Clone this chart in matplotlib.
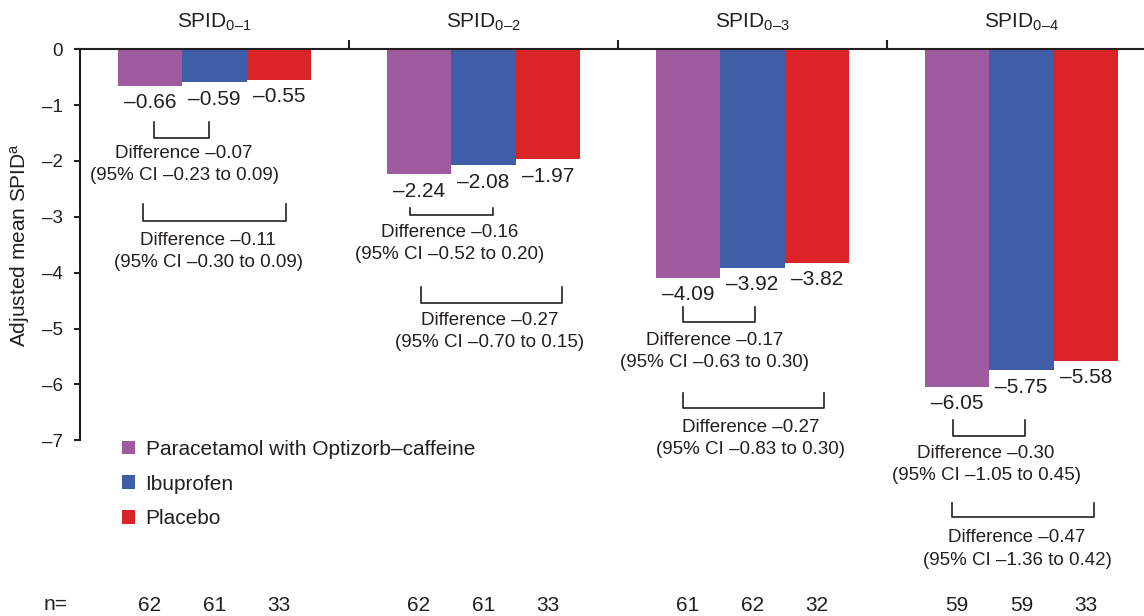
import matplotlib
matplotlib.use("Agg")
import matplotlib.pyplot as plt
import numpy as np

# ---- data ----
groups = ["0–1", "0–2", "0–3", "0–4"]
series = ["Paracetamol with Optizorb–caffeine", "Ibuprofen", "Placebo"]
paracetamol = [-0.66, -2.24, -4.09, -6.05]
ibuprofen = [-0.59, -2.08, -3.92, -5.75]
placebo = [-0.55, -1.97, -3.82, -5.58]
n_paracetamol = [62, 62, 61, 59]
n_ibuprofen = [61, 61, 62, 59]
n_placebo = [33, 33, 32, 33]
diff_pi = ["–0.07", "–0.16", "–0.17", "–0.30"]
ci_pi = ["–0.23 to 0.09", "–0.52 to 0.20", "–0.63 to 0.30", "–1.05 to 0.45"]
diff_pp = ["–0.11", "–0.27", "–0.27", "–0.47"]
ci_pp = ["–0.30 to 0.09", "–0.70 to 0.15", "–0.83 to 0.30", "–1.36 to 0.42"]
yticks = [0, -1, -2, -3, -4, -5, -6, -7]

# ---- layout (annotation positions) ----
br1_top = [-1.31, -2.84, -4.62, -6.64]
br1_h = [0.27, 0.13, 0.27, 0.29]
txt1_y = [-1.86, -3.28, -5.21, -7.23]
br2_top = [-2.77, -4.26, -6.16, -8.12]
br2_h = [0.30, 0.29, 0.27, 0.25]
txt2_y = [-3.42, -4.85, -6.77, -8.75]
line_gap = 0.40
# horizontal pixel offsets
br1_dx0 = [4, -9, -5, -4]
br1_dx1 = [-6, 9, 2, 3]
br2_dx0 = [-7, 2, -5, -5]
br2_dx1 = [7, 14, 7, 8]
txt1_dx = [-30.5, -33.5, -37.5, -35.5]
txt2_dx = [-6.5, 6.5, -1.5, -4.5]

colors = ["#A05AA0", "#405DA7", "#DA2428"]
tc = "#231f20"

plt.rcParams['font.family'] = ['Liberation Sans', 'DejaVu Sans']
plt.rcParams['mathtext.fontset'] = 'custom'
plt.rcParams['mathtext.rm'] = 'Liberation Sans'
plt.rcParams['mathtext.it'] = 'Liberation Sans'
plt.rcParams['text.color'] = tc

W, H = 1144, 616
fig = plt.figure(figsize=(W / 100, H / 100), dpi=100)
ax = fig.add_axes([80 / W, 0, 1 - 80 / W, 1])

px_per_unit = 55.85
group_px = 269.0
y_top = 49.3 / px_per_unit
y_bot = -(H - 49.3) / px_per_unit
ax.set_ylim(y_bot, y_top)
ax.set_xlim(-0.5, -0.5 + (W - 80) / group_px)
px = 1.0 / group_px  # one pixel in x data units

bw = 0.24
x = np.arange(len(groups))
all_vals = [paracetamol, ibuprofen, placebo]
all_n = [n_paracetamol, n_ibuprofen, n_placebo]
offs = [-bw, 0, bw]
for vals, off, c, lab in zip(all_vals, offs, colors, series):
    ax.bar(x + off, vals, width=bw, color=c, label=lab, zorder=2)
    for xi, v in zip(x, vals):
        ax.text(xi + off, v - 0.30, f"{v:.2f}".replace("-", "–"), ha='center', va='center',
                fontsize=15, color=tc)

# n row
for nvals, off in zip(all_n, offs):
    for xi, nv in zip(x, nvals):
        ax.text(xi + off, -9.95, str(nv), ha='center', va='center', fontsize=15, color=tc, clip_on=False)
fig.text(44 / W, 1 - 605 / H, "n=", ha='left', va='center', fontsize=15, color=tc)

# group titles
for xi, g in zip(x, groups):
    ax.text(xi, 0.48, r"SPID$_{\mathregular{" + g + "}}$", ha='center', va='center', fontsize=15, color=tc)

# brackets and difference text
lw_b = 1.2
fs_t = 13.5
for i, xi in enumerate(x):
    xa = xi - bw + br1_dx0[i] * px
    xb = xi + br1_dx1[i] * px
    t, h = br1_top[i], br1_h[i]
    ax.plot([xa, xa, xb, xb], [t, t - h, t - h, t], color=tc, lw=lw_b, solid_joinstyle='round')
    xm = xi + txt1_dx[i] * px
    ax.text(xm, txt1_y[i], "Difference " + diff_pi[i], ha='center', va='center', fontsize=fs_t, color=tc)
    ax.text(xm, txt1_y[i] - line_gap, "(95% CI " + ci_pi[i] + ")", ha='center', va='center',
            fontsize=fs_t, color=tc)

    xa = xi - bw + br2_dx0[i] * px
    xb = xi + bw + br2_dx1[i] * px
    t, h = br2_top[i], br2_h[i]
    ax.plot([xa, xa, xb, xb], [t, t - h, t - h, t], color=tc, lw=lw_b, solid_joinstyle='round')
    xm = xi + txt2_dx[i] * px
    ax.text(xm, txt2_y[i], "Difference " + diff_pp[i], ha='center', va='center', fontsize=fs_t, color=tc)
    ax.text(xm, txt2_y[i] - line_gap, "(95% CI " + ci_pp[i] + ")", ha='center', va='center',
            fontsize=fs_t, color=tc)

# axes styling
for s in ['right', 'bottom']:
    ax.spines[s].set_visible(False)
ax.spines['top'].set_position(('data', 0))
ax.spines['top'].set_linewidth(1.5)
ax.spines['top'].set_color(tc)
ax.spines['left'].set_bounds(-7, 0)
ax.spines['left'].set_linewidth(1.5)
ax.spines['left'].set_color(tc)
ax.xaxis.set_ticks_position('top')
ax.set_xticks([0.5, 1.5, 2.5])
ax.set_xticklabels([])
ax.tick_params(axis='x', direction='out', length=6.5, width=1.5, color=tc)
ax.set_yticks(yticks)
ax.set_yticklabels([str(v).replace("-", "–") for v in yticks])
ax.tick_params(axis='y', direction='out', length=4.5, width=1.5, color=tc, labelsize=13.5,
               labelcolor=tc, pad=8)

fig.text(20 / W, 1 - 245 / H, r"Adjusted mean SPID$^{\mathregular{a}}$", rotation=90,
         ha='center', va='center', fontsize=15, color=tc)

leg = ax.legend(loc='upper left', bbox_to_anchor=(122 / W, 1 - 440 / H), bbox_transform=fig.transFigure,
                frameon=False, fontsize=15, handlelength=0.63, handleheight=0.63, handletextpad=0.5,
                labelspacing=0.75, borderpad=0, borderaxespad=0)
for t in leg.get_texts():
    t.set_color(tc)

fig.savefig("out.png", dpi=100)
